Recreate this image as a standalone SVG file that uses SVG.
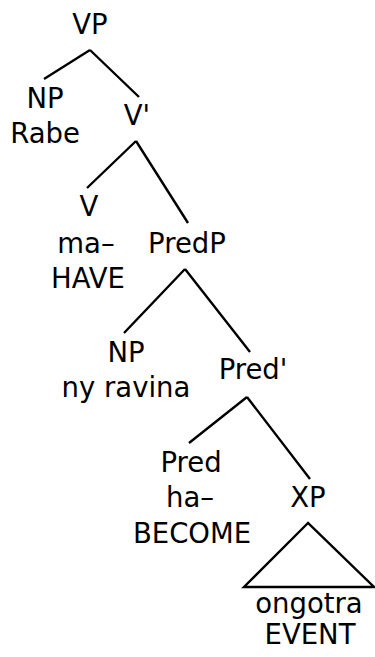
<svg xmlns="http://www.w3.org/2000/svg" width="375" height="657" viewBox="0 0 375 657">
<style>
text{font-family:"DejaVu Sans",sans-serif;font-size:27.5px;fill:#000;text-anchor:middle}
.e{stroke:#000;stroke-width:2.4;fill:none;stroke-linecap:butt}
</style>
<rect width="375" height="657" fill="#fff"/>
<g id="connectors">
<path class="e" d="M90 50L44 79M90 50L139 97"/>
<path class="e" d="M136 141L87 188M136 141L188 223"/>
<path class="e" d="M185 269L124 333M185 269L250 352"/>
<path class="e" d="M247 397L189 443M247 397L310 479"/>
<path class="e" d="M308 523L244 587L374 587Z"/>
</g>
<g id="VP"><text x="90" y="34">VP</text></g>
<g id="NP1"><text x="45" y="108">NP</text><text x="45" y="143">Rabe</text></g>
<g id="Vbar"><text x="137" y="125">V'</text></g>
<g id="V"><text x="89" y="216">V</text><text x="86" y="253">ma–</text><text x="88" y="288">HAVE</text></g>
<g id="PredP"><text x="187" y="253">PredP</text></g>
<g id="NP2"><text x="126" y="362">NP</text><text x="126" y="397">ny ravina</text></g>
<g id="Predbar"><text x="253" y="379">Pred'</text></g>
<g id="Pred"><text x="191" y="472">Pred</text><text x="190" y="507">ha–</text><text x="192" y="543">BECOME</text></g>
<g id="XP"><text x="308" y="507">XP</text><text x="309" y="613">ongotra</text><text x="310" y="644">EVENT</text></g>
</svg>
